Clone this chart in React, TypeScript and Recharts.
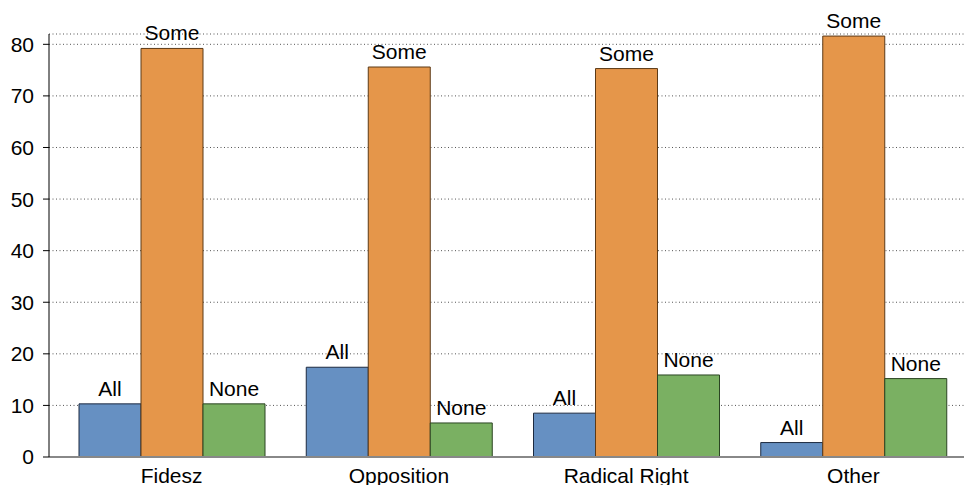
import {
  BarChart,
  Bar,
  XAxis,
  YAxis,
  CartesianGrid,
  LabelList,
} from 'recharts';

// Share of respondents by party group
const categories = ['Fidesz', 'Opposition', 'Radical Right', 'Other'];
const allValues = [10.3, 17.4, 8.5, 2.8];
const someValues = [79.2, 75.6, 75.3, 81.6];
const noneValues = [10.3, 6.6, 15.9, 15.2];
const yTicks = [0, 10, 20, 30, 40, 50, 60, 70, 80];

const data = categories.map((name, i) => ({
  name,
  all: allValues[i],
  some: someValues[i],
  none: noneValues[i],
}));

const series = [
  { key: 'all', label: 'All', fill: '#6690c2', stroke: '#1d2a40' },
  { key: 'some', label: 'Some', fill: '#e5964a', stroke: '#5c3a17' },
  { key: 'none', label: 'None', fill: '#7ab062', stroke: '#2b4423' },
];

export default function App() {
  return (
    <div
      style={{
        position: 'absolute',
        left: 0,
        top: 0,
        width: 964,
        height: 485,
        overflow: 'hidden',
        background: '#fff',
        fontFamily: '"Liberation Sans", Arial, Helvetica, sans-serif',
      }}
    >
      <BarChart
        width={967}
        height={485}
        data={data}
        margin={{ top: 34, right: 0, bottom: 0, left: 0 }}
        barCategoryGap={21}
        barGap={0}
      >
        <CartesianGrid vertical={false} stroke="#555" strokeDasharray="1 2.5" />
        {series.map((s) => (
          <Bar
            key={s.key}
            dataKey={s.key}
            fill={s.fill}
            stroke={s.stroke}
            strokeWidth={1}
            isAnimationActive={false}
          >
            <LabelList
              position="top"
              offset={8}
              valueAccessor={() => s.label}
              fill="#000"
              fontSize={21}
            />
          </Bar>
        ))}
        <XAxis
          dataKey="name"
          height={28}
          padding={{ left: 9, right: 0 }}
          axisLine={{ stroke: '#888', strokeWidth: 2 }}
          tickLine={false}
          tickSize={0}
          tickMargin={11}
          tick={{ fill: '#000', fontSize: 21 }}
          interval={0}
        />
        <YAxis
          width={49}
          domain={[0, 82]}
          ticks={yTicks}
          axisLine={{ stroke: '#000', strokeWidth: 1 }}
          tickSize={6}
          tickMargin={9}
          tickLine={{ stroke: '#000' }}
          tick={{ fill: '#000', fontSize: 21 }}
        />
      </BarChart>
    </div>
  );
}
